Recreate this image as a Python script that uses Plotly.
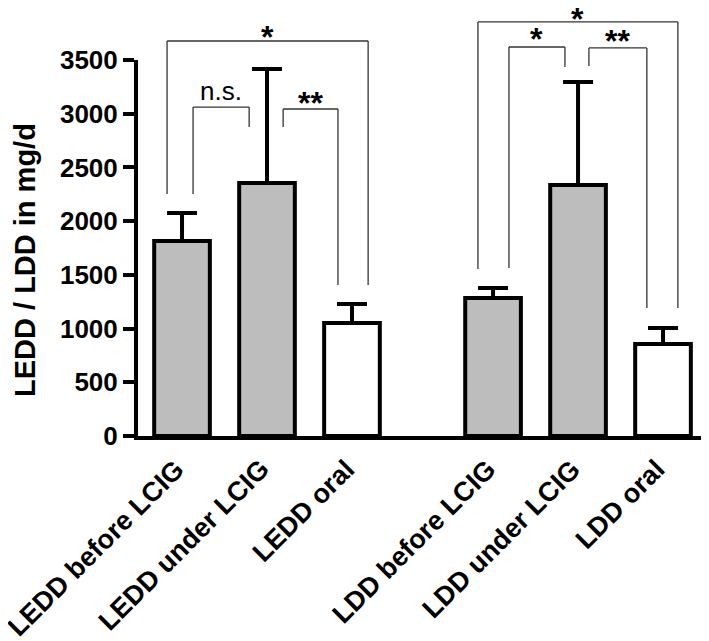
import plotly.graph_objects as go

# ---- data ----
categories = ["LEDD before LCIG", "LEDD under LCIG", "LEDD oral",
              "LDD before LCIG", "LDD under LCIG", "LDD oral"]
means = [1815, 2356, 1052, 1285, 2337, 857]
sd_upper = [261, 1061, 177, 93, 959, 149]
fill_colors = ["#bdbdbd", "#bdbdbd", "#ffffff", "#bdbdbd", "#bdbdbd", "#ffffff"]
y_ticks = [0, 500, 1000, 1500, 2000, 2500, 3000, 3500]

# significance brackets: (x_left, x_right, y_top, y_left_end, y_right_end, label, label_y)
brackets = [
    (-0.176, 2.19, 3677, 2253, 1406, "*", 3715),
    (0.13, 0.79, 3062, 2253, 2876, "n.s.", 3213),
    (1.19, 1.835, 3044, 2876, 1406, "**", 3100),
    (3.482, 5.835, 3854, 1555, 1191, "*", 3882),
    (3.847, 4.506, 3621, 1564, 3435, "*", 3700),
    (4.788, 5.47, 3612, 3444, 1191, "**", 3680),
]

# ---- layout geometry ----
x_pos = [0, 1, 2, 3.66, 4.66, 5.66]
x_range = [-0.518, 6.154]
y_range = [0, 3500]
PLOT_W, PLOT_H = 567, 376

FONT = "Liberation Sans, Arial, sans-serif"


def px(x):
    return (x - x_range[0]) / (x_range[1] - x_range[0])


def py(y):
    return (y - y_range[0]) / (y_range[1] - y_range[0])


fig = go.Figure()
fig.add_trace(go.Bar(
    x=x_pos, y=means, width=0.655,
    marker=dict(color=fill_colors, line=dict(color="black", width=4)),
    error_y=dict(type="data", symmetric=False, array=sd_upper,
                 arrayminus=[0] * len(means), color="black",
                 thickness=4, width=15),
    showlegend=False,
))

shapes = []
annotations = []
for xl, xr, yt, yle, yre, lab, ly in brackets:
    line = dict(color="#333333", width=1.3)
    shapes.append(dict(type="line", xref="paper", yref="paper",
                       x0=px(xl), x1=px(xr), y0=py(yt), y1=py(yt), line=line))
    shapes.append(dict(type="line", xref="paper", yref="paper",
                       x0=px(xl), x1=px(xl), y0=py(yt), y1=py(yle), line=line))
    shapes.append(dict(type="line", xref="paper", yref="paper",
                       x0=px(xr), x1=px(xr), y0=py(yt), y1=py(yre), line=line))
    is_ns = lab == "n.s."
    annotations.append(dict(
        text=lab, xref="paper", yref="paper", x=px((xl + xr) / 2), y=py(ly),
        xanchor="center", yanchor="middle", showarrow=False,
        font=dict(family=FONT, size=26 if is_ns else 32, color="black",
                  weight="normal" if is_ns else "bold")))

# category labels, rotated, anchored at the top-right of their rotated box
for xp, cat in zip(x_pos, categories):
    annotations.append(dict(
        text=cat, xref="paper", yref="paper",
        x=px(xp) + 11 / PLOT_W, y=-15 / PLOT_H,
        xanchor="right", yanchor="top", textangle=-45, showarrow=False,
        font=dict(family=FONT, size=27, color="black", weight="bold")))

annotations.append(dict(
    text="LEDD / LDD in mg/d", xref="paper", yref="paper",
    x=-0.199, y=py(1640), textangle=-90, showarrow=False,
    xanchor="center", yanchor="middle",
    font=dict(family=FONT, size=29, color="black", weight="bold")))

fig.update_layout(
    width=701, height=633,
    margin=dict(l=130, r=4, t=52, b=205),
    paper_bgcolor="white", plot_bgcolor="white",
    shapes=shapes, annotations=annotations,
    xaxis=dict(range=x_range, tickvals=x_pos, showticklabels=False,
               showline=True, linewidth=4, linecolor="black",
               ticks="", showgrid=False, zeroline=False, automargin=False),
    yaxis=dict(range=y_range, tickvals=y_ticks, showline=True, linewidth=4,
               linecolor="black", ticks="outside", ticklen=11, tickwidth=4,
               tickcolor="black", showgrid=False, zeroline=False, automargin=False,
               tickfont=dict(family=FONT, size=26, color="black", weight="bold")),
)

fig.write_html("out.html")
